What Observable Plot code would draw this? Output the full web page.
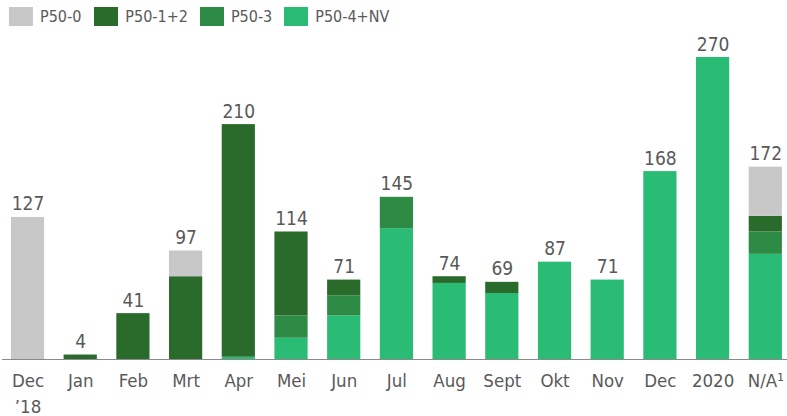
<!DOCTYPE html>
<html>
<head>
<meta charset="utf-8">
<script src="https://cdn.jsdelivr.net/npm/d3@7"></script>
<script src="https://cdn.jsdelivr.net/npm/@observablehq/plot@0.6"></script>
<style>
  html, body { margin: 0; padding: 0; background: #fff; }
  body { width: 787px; height: 416px; overflow: hidden; font-family: "DejaVu Sans Condensed", "DejaVu Sans", sans-serif; }
  #legend { display: flex; align-items: center; height: 30px; padding-left: 9px; box-sizing: border-box; padding-top: 3px; }
  .item { display: flex; align-items: center; }
  .sw { width: 24px; height: 19px; margin-right: 7px; }
  .lab { font-size: 16px; color: #595959; }
</style>
</head>
<body>
<div id="legend"></div>
<div id="chart"></div>
<script>
const categories = ["Dec\n’18","Jan","Feb","Mrt","Apr","Mei","Jun","Jul","Aug","Sept","Okt","Nov","Dec","2020","N/A¹"];
const seriesNames = ["P50-0","P50-1+2","P50-3","P50-4+NV"];
const seriesColors = ["#c8c8c8","#2a6b2b","#2e8b46","#2abb74"];
const p50_0   = [127,0,0,23,0,0,0,0,0,0,0,0,0,0,44];
const p50_12  = [0,4,41,74,208,75,14,0,6,10,0,0,0,0,14];
const p50_3   = [0,0,0,0,0,20,18,28,0,0,0,0,0,0,20];
const p50_4nv = [0,0,0,0,2,19,39,117,68,59,87,71,168,270,94];
const totals  = [127,4,41,97,210,114,71,145,74,69,87,71,168,270,172];

// legend
const legend = document.getElementById("legend");
const gaps = [13, 12, 12, 0];
seriesNames.forEach((name, i) => {
  const it = document.createElement("div");
  it.className = "item";
  it.style.marginRight = gaps[i] + "px";
  it.innerHTML = `<div class="sw" style="background:${seriesColors[i]}"></div><span class="lab">${name}</span>`;
  legend.appendChild(it);
});

// stack from bottom: P50-4+NV, P50-3, P50-1+2, P50-0
const stackOrder = [
  ["P50-4+NV", p50_4nv],
  ["P50-3", p50_3],
  ["P50-1+2", p50_12],
  ["P50-0", p50_0]
];
const rows = [];
categories.forEach((c, i) => {
  stackOrder.forEach(([s, arr]) => rows.push({cat: c, series: s, value: arr[i]}));
});
const totalRows = categories.map((c, i) => ({cat: c, total: totals[i]}));

const chart = Plot.plot({
  width: 787,
  height: 386,
  marginLeft: 2,
  marginRight: 0,
  marginTop: 27,
  marginBottom: 57,
  style: {fontFamily: "DejaVu Sans Condensed, DejaVu Sans, sans-serif", color: "#595959", background: "#fff"},
  x: {domain: categories, paddingInner: 0.37, paddingOuter: 0.133, align: 0.636, round: false, axis: null},
  y: {domain: [0, 270], axis: null},
  color: {domain: seriesNames, range: seriesColors},
  marks: [
    Plot.barY(rows, {x: "cat", y: "value", fill: "series", order: null}),
    Plot.ruleY([0], {stroke: "#8a8a8a", strokeWidth: 1.2}),
    Plot.text(totalRows, {x: "cat", y: "total", text: d => String(d.total), lineAnchor: "bottom", dy: -7, fontSize: 19, fill: "#595959"}),
    Plot.text(categories, {x: d => d, y: 0, text: d => d, lineAnchor: "top", dy: 10, lineHeight: 1.36, fontSize: 18.5, fill: "#595959"})
  ]
});
document.getElementById("chart").appendChild(chart);
</script>
</body>
</html>
